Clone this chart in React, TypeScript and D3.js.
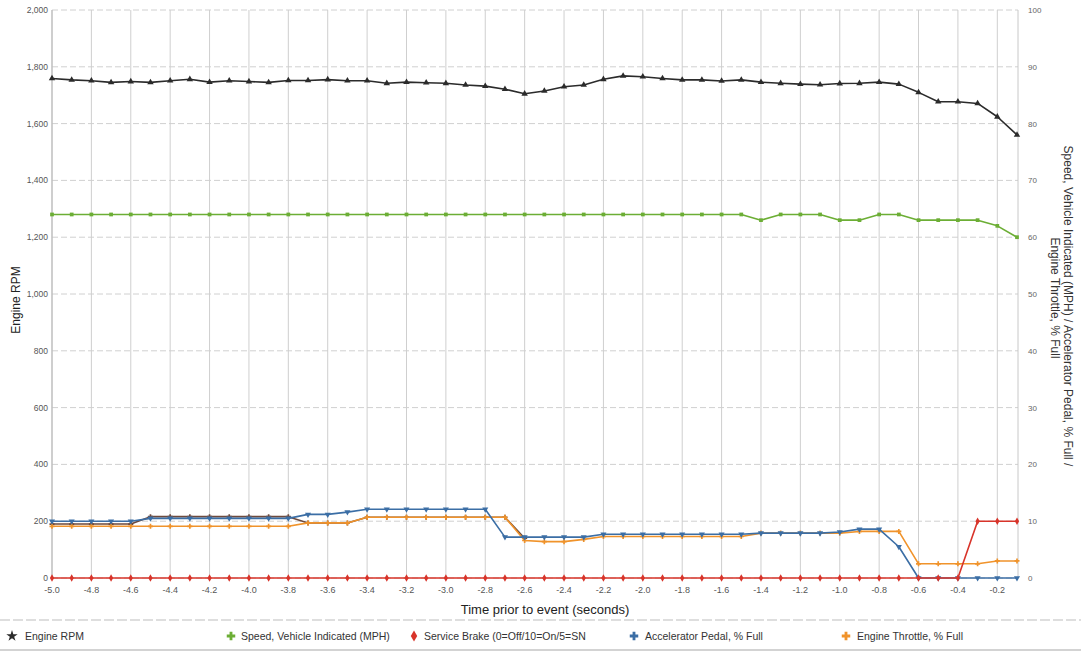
import React from "react";
import * as d3 from "d3";

const times = [-5.0, -4.9, -4.8, -4.7, -4.6, -4.5, -4.4, -4.3, -4.2, -4.1, -4.0, -3.9, -3.8, -3.7, -3.6, -3.5, -3.4, -3.3, -3.2, -3.1, -3.0, -2.9, -2.8, -2.7, -2.6, -2.5, -2.4, -2.3, -2.2, -2.1, -2.0, -1.9, -1.8, -1.7, -1.6, -1.5, -1.4, -1.3, -1.2, -1.1, -1.0, -0.9, -0.8, -0.7, -0.6, -0.5, -0.4, -0.3, -0.2, -0.1];

const engineRpm = [1759, 1754, 1751, 1745, 1748, 1745, 1751, 1756, 1746, 1751, 1748, 1745, 1752, 1752, 1755, 1751, 1751, 1742, 1746, 1744, 1742, 1736, 1732, 1721, 1705, 1715, 1730, 1736, 1756, 1768, 1765, 1759, 1754, 1754, 1750, 1754, 1746, 1742, 1739, 1737, 1741, 1742, 1746, 1739, 1710, 1677, 1677, 1671, 1624, 1560];

const speedMph = [64, 64, 64, 64, 64, 64, 64, 64, 64, 64, 64, 64, 64, 64, 64, 64, 64, 64, 64, 64, 64, 64, 64, 64, 64, 64, 64, 64, 64, 64, 64, 64, 64, 64, 64, 64, 63, 64, 64, 64, 63, 63, 64, 64, 63, 63, 63, 63, 62, 60];

const serviceBrake = [0, 0, 0, 0, 0, 0, 0, 0, 0, 0, 0, 0, 0, 0, 0, 0, 0, 0, 0, 0, 0, 0, 0, 0, 0, 0, 0, 0, 0, 0, 0, 0, 0, 0, 0, 0, 0, 0, 0, 0, 0, 0, 0, 0, 0, 0, 0, 10, 10, 10];

const accelPedal = [10, 10, 10, 10, 10, 10.5, 10.5, 10.5, 10.5, 10.5, 10.5, 10.5, 10.5, 11.2, 11.2, 11.6, 12.1, 12.1, 12.1, 12.1, 12.1, 12.1, 12.1, 7.2, 7.2, 7.2, 7.2, 7.2, 7.7, 7.7, 7.7, 7.7, 7.7, 7.7, 7.7, 7.7, 7.9, 7.9, 7.9, 7.9, 8.1, 8.6, 8.6, 5.5, 0, 0, 0, 0, 0, 0];

const engineThrottle = [9.1, 9.1, 9.1, 9.1, 9.1, 9.1, 9.1, 9.1, 9.1, 9.1, 9.1, 9.1, 9.1, 9.7, 9.7, 9.7, 10.7, 10.7, 10.7, 10.7, 10.7, 10.7, 10.7, 10.7, 6.6, 6.4, 6.4, 6.8, 7.3, 7.3, 7.3, 7.3, 7.3, 7.3, 7.3, 7.3, 7.9, 7.9, 7.9, 7.9, 7.9, 8.2, 8.2, 8.2, 2.5, 2.5, 2.5, 2.5, 3.0, 3.0];

// unlabeled dark trace visible in the reference (first half only)
const unlabeledTrace = [9.5, 9.5, 9.5, 9.5, 9.5, 10.8, 10.8, 10.8, 10.8, 10.8, 10.8, 10.8, 10.8, 9.7, 9.7, 9.7, 10.7, 10.7, 10.7, 10.7, 10.7, 10.7, 10.7, 10.7, 7.0];

const xTickValues = [-5.0, -4.8, -4.6, -4.4, -4.2, -4.0, -3.8, -3.6, -3.4, -3.2, -3.0, -2.8, -2.6, -2.4, -2.2, -2.0, -1.8, -1.6, -1.4, -1.2, -1.0, -0.8, -0.6, -0.4, -0.2];
const xTickLabels = ["-5.0", "-4.8", "-4.6", "-4.4", "-4.2", "-4.0", "-3.8", "-3.6", "-3.4", "-3.2", "-3.0", "-2.8", "-2.6", "-2.4", "-2.2", "-2.0", "-1.8", "-1.6", "-1.4", "-1.2", "-1.0", "-0.8", "-0.6", "-0.4", "-0.2"];
const leftTickValues = [0, 200, 400, 600, 800, 1000, 1200, 1400, 1600, 1800, 2000];
const leftTickLabels = ["0", "200", "400", "600", "800", "1,000", "1,200", "1,400", "1,600", "1,800", "2,000"];
const rightTickValues = [0, 10, 20, 30, 40, 50, 60, 70, 80, 90, 100];
const rightTickLabels = ["0", "10", "20", "30", "40", "50", "60", "70", "80", "90", "100"];

const legendNames = ["Engine RPM", "Speed, Vehicle Indicated (MPH)", "Service Brake (0=Off/10=On/5=SN", "Accelerator Pedal, % Full", "Engine Throttle, % Full"];

const W = 1081;
const H = 654;
const FONT = "'Liberation Sans', Arial, sans-serif";

export default function App() {
  const x = d3.scaleLinear().domain([-5.0, -0.1]).range([52, 1017]);
  const yL = d3.scaleLinear().domain([0, 2000]).range([578, 10]);
  const yR = d3.scaleLinear().domain([0, 100]).range([578, 10]);

  const lineL = d3.line<number>().x((_, i) => x(times[i])).y((d) => yL(d));
  const lineR = d3.line<number>().x((_, i) => x(times[i])).y((d) => yR(d));

  const sym = (type: any, size: number) => d3.symbol().type(type).size(size)() as string;

  const series = [
    { key: "u", data: unlabeledTrace, color: "#6e4a3c", scale: yR, line: lineR, marker: sym(d3.symbolCross, 14), rot: 0 },
    { key: "thr", data: engineThrottle, color: "#f0932b", scale: yR, line: lineR, marker: sym(d3.symbolCross, 14), rot: 0 },
    { key: "ped", data: accelPedal, color: "#3b6ea5", scale: yR, line: lineR, marker: sym(d3.symbolTriangle, 16), rot: 180 },
    { key: "brk", data: serviceBrake, color: "#d8342a", scale: yR, line: lineR, marker: sym(d3.symbolDiamond, 16), rot: 0 },
    { key: "spd", data: speedMph, color: "#6cae35", scale: yR, line: lineR, marker: sym(d3.symbolSquare, 14), rot: 0 },
    { key: "rpm", data: engineRpm, color: "#2b2b2b", scale: yL, line: lineL, marker: sym(d3.symbolTriangle, 18), rot: 0 },
  ];

  const legend = [
    { name: legendNames[0], color: "#2b2b2b", marker: sym(d3.symbolStar, 40), mx: 12, tx: 25 },
    { name: legendNames[1], color: "#6cae35", marker: sym(d3.symbolCross, 40), mx: 231, tx: 241 },
    { name: legendNames[2], color: "#d8342a", marker: sym(d3.symbolDiamond, 36), mx: 414, tx: 424 },
    { name: legendNames[3], color: "#3b6ea5", marker: sym(d3.symbolCross, 40), mx: 634, tx: 645 },
    { name: legendNames[4], color: "#f0932b", marker: sym(d3.symbolCross, 40), mx: 846, tx: 857 },
  ];

  return (
    <svg width={W} height={H} style={{ position: "absolute", left: 0, top: 0, display: "block", background: "#fff" }} fontFamily={FONT}>
      {/* horizontal grid */}
      {leftTickValues.map((v) => (
        <line key={"hg" + v} x1={52} x2={1018} y1={yL(v)} y2={yL(v)} stroke="#d0d0d0" strokeWidth={1} strokeDasharray="6,3" />
      ))}
      {/* vertical grid */}
      {xTickValues.map((v) => (
        <line key={"vg" + v} x1={x(v)} x2={x(v)} y1={10} y2={578} stroke="#cfcfcf" strokeWidth={1} />
      ))}
      <line x1={1018} x2={1018} y1={10} y2={578} stroke="#c8c8c8" strokeWidth={1} />
      <line x1={52} x2={52} y1={10} y2={580} stroke="#b5b5b5" strokeWidth={1} />

      {/* left ticks */}
      {leftTickValues.map((v, i) => (
        <text key={"lt" + v} x={48} y={yL(v) + 3} fontSize={8.5} fill="#555" textAnchor="end">{leftTickLabels[i]}</text>
      ))}
      {/* right ticks */}
      {rightTickValues.map((v, i) => (
        <text key={"rt" + v} x={1028} y={yR(v) + 3} fontSize={8} fill="#666">{rightTickLabels[i]}</text>
      ))}
      {/* x ticks */}
      {xTickValues.map((v, i) => (
        <text key={"xt" + v} x={x(v)} y={593} fontSize={9} fill="#555" textAnchor="middle">{xTickLabels[i]}</text>
      ))}

      {/* series */}
      {series.map((s) => (
        <g key={s.key}>
          <path d={s.line(s.data) as string} fill="none" stroke={s.color} strokeWidth={1.6} strokeLinejoin="round" />
          {s.data.map((d, i) => (
            <path key={i} d={s.marker} fill={s.color} transform={`translate(${x(times[i])},${s.scale(d)}) rotate(${s.rot})`} />
          ))}
        </g>
      ))}

      {/* axis titles */}
      <text x={545} y={614} fontSize={13} fill="#222" textAnchor="middle">Time prior to event (seconds)</text>
      <text transform="translate(20,300) rotate(-90)" fontSize={12} fill="#222" textAnchor="middle">Engine RPM</text>
      <text transform="translate(1064,306) rotate(90)" fontSize={12} fill="#333" textAnchor="middle">Speed, Vehicle Indicated (MPH) / Accelerator Pedal, % Full /</text>
      <text transform="translate(1051,298) rotate(90)" fontSize={12} fill="#333" textAnchor="middle">Engine Throttle, % Full</text>

      {/* legend frame lines */}
      <line x1={0} x2={W} y1={620} y2={620} stroke="#bdbdbd" strokeWidth={1} strokeDasharray="10,3" />
      <line x1={0} x2={W} y1={650} y2={650} stroke="#c4c4c4" strokeWidth={1.5} />
      {legend.map((l) => (
        <g key={l.name}>
          <path d={l.marker} fill={l.color} transform={`translate(${l.mx},${636})`} />
          <text x={l.tx} y={640} fontSize={10.5} fill="#333">{l.name}</text>
        </g>
      ))}
    </svg>
  );
}
